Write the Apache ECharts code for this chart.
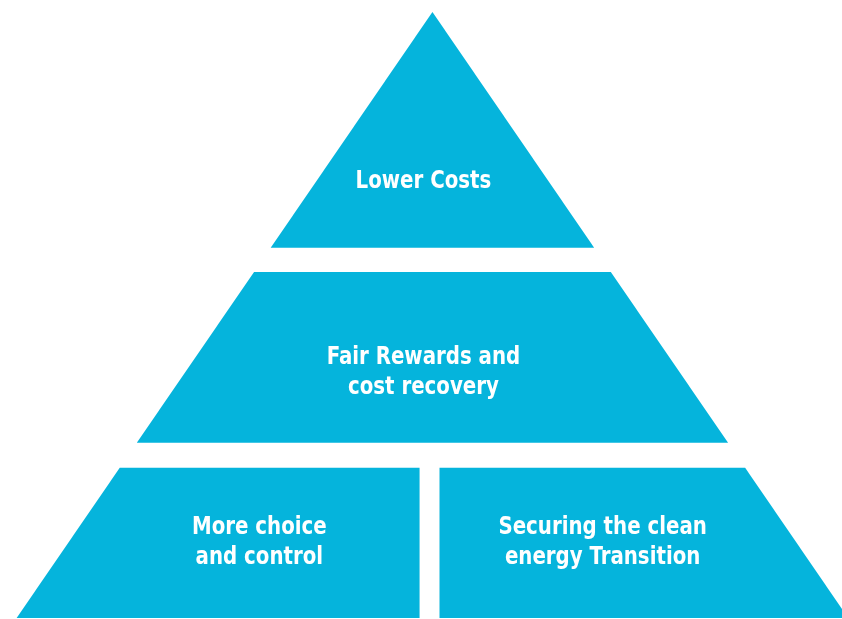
<!DOCTYPE html>
<html>
<head>
<meta charset="utf-8">
<script src="https://cdn.jsdelivr.net/npm/echarts@6/dist/echarts.min.js"></script>
<style>
  html, body { margin: 0; padding: 0; background: #fff; }
  #chart { width: 842px; height: 619px; }
</style>
</head>
<body>
<div id="chart"></div>
<script>
// pyramid tiers: depth measured from apex (0) to base (1),
// x measured as share of the base half-width (-1 .. 1)
const labels = ['Lower Costs', 'Fair Rewards and\ncost recovery', 'More choice\nand control', 'Securing the clean\nenergy Transition'];
const tierTop = [0, 0.429, 0.752, 0.752];
const tierBottom = [0.389, 0.711, 1, 1];
const xFrom = [-1, -1, -1, 0.017];
const xTo = [1, 1, -0.031, 1];

// where the label sits inside its tier (0 = top edge, 1 = bottom edge)
const labelAt = [0.72, 0.59, 0.5, 0.5];

const chart = echarts.init(document.getElementById('chart'));

const renderItem = (params, api) => {
  const i = params.dataIndex;
  const t = tierTop[i];
  const b = tierBottom[i];
  const lo = xFrom[i];
  const hi = xTo[i];
  const pts = [
    api.coord([Math.max(lo, -t), t]),
    api.coord([Math.min(hi, t), t]),
    api.coord([Math.min(hi, b), b]),
    api.coord([Math.max(lo, -b), b])
  ];
  const full = lo <= -1 && hi >= 1;
  const ly = t + (b - t) * labelAt[i];
  const dx = t + (b - t) * 0.2;
  const lx = (Math.max(lo, -dx) + Math.min(hi, dx)) / 2;
  const p = api.coord([lx, ly]);
  return {
    type: 'group',
    children: [
      {
        type: 'polygon',
        shape: { points: pts },
        style: { fill: '#05b4dc' }
      },
      {
        type: 'text',
        x: p[0] + (full ? -9 : 0),
        y: p[1],
        scaleY: 1.1,
        style: {
          text: labels[i],
          fill: '#fff',
          align: 'center',
          verticalAlign: 'middle',
          font: 'bold 22px "DejaVu Sans Condensed", "DejaVu Sans", sans-serif',
          lineHeight: 27
        }
      }
    ]
  };
};

chart.setOption({
  animation: false,
  grid: { left: 0, right: 0, top: 12, bottom: 1 },
  xAxis: { type: 'value', min: -1.04, max: 0.985, show: false },
  yAxis: { type: 'value', min: 0, max: 1, inverse: true, show: false },
  series: [{
    type: 'custom',
    renderItem: renderItem,
    data: labels.map((name, i) => [i]),
    clip: false
  }]
});
</script>
</body>
</html>
